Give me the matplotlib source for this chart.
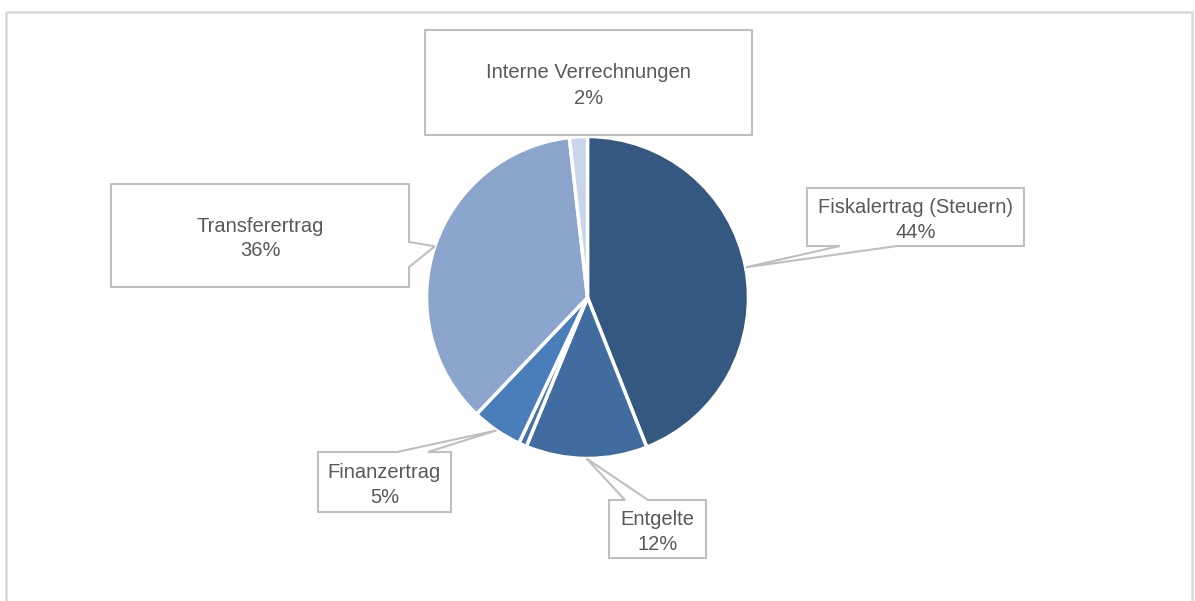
import matplotlib
matplotlib.use("Agg")
import matplotlib.pyplot as plt
import numpy as np
from matplotlib.patches import Polygon, Rectangle
from matplotlib import transforms

# Data (clockwise from 12 o'clock)
categories = ["Fiskalertrag (Steuern)", "Entgelte", "", "Finanzertrag",
              "Transferertrag", "Interne Verrechnungen"]
values = [44.0, 12.2, 0.8, 5.1, 36.1, 1.8]
labels_pct = ["44%", "12%", "", "5%", "36%", "2%"]
colors = ["#34587F", "#416C9F", "#4471AB", "#4A7EBB", "#8BA5CD", "#C9D5E8"]

W, H = 1195, 601
fig = plt.figure(figsize=(W / 100, H / 100), dpi=100)
fig.patch.set_facecolor("white")

# pixel (top-left origin) -> figure transform
pix = transforms.Affine2D().scale(1 / W, -1 / H).translate(0, 1) + fig.transFigure

# outer frame
fig.patches.append(Rectangle((6, 12), 1186, 620, transform=pix, fill=False,
                             edgecolor="#D9D9D9", linewidth=1.8))

cx, cy, R = 587.5, 297.5, 161
span = 200
ax = fig.add_axes([(cx - span) / W, (H - cy - span) / H, 2 * span / W, 2 * span / H])
lim = span / R

wedges, _ = ax.pie(values, colors=colors, startangle=90, counterclock=False,
                   radius=1.0, center=(0, 0), frame=True,
                   wedgeprops=dict(edgecolor="white", linewidth=2.5))
ax.set_xlim(-lim, lim)
ax.set_ylim(-lim, lim)
ax.set_aspect("equal")
ax.axis("off")

fig.canvas.draw()

def tip_for(i):
    w = wedges[i]
    mid = np.deg2rad((w.theta1 + w.theta2) / 2)
    x, y = np.cos(mid), np.sin(mid)
    px, py = ax.transData.transform((x, y))
    return (px, H - py)

# callout layouts: box (x0, y0, x1, y1) in pixels, side, pointer base
callouts = {
    0: dict(box=(807, 188, 1024, 246), side="bottom", base=(897, 840)),
    1: dict(box=(609, 500, 706, 558), side="top", base=(625, 648)),
    3: dict(box=(318, 452, 451, 512), side="top", base=(397, 428)),
    4: dict(box=(111, 184, 409, 287), side="right", base=(242, 267)),
    5: dict(box=(425, 30, 752, 135), side=None, base=None),
}

edge = "#BFBFBF"
tcol = "#595959"
for i, c in callouts.items():
    x0, y0, x1, y1 = c["box"]
    side = c["side"]
    if side is None:
        pts = [(x0, y0), (x1, y0), (x1, y1), (x0, y1)]
    else:
        t = tip_for(i)
        a, b = c["base"]
        if side == "bottom":
            pts = [(x0, y0), (x1, y0), (x1, y1), (a, y1), t, (b, y1), (x0, y1)]
        elif side == "top":
            pts = [(x0, y0), (a, y0), t, (b, y0), (x1, y0), (x1, y1), (x0, y1)]
        elif side == "right":
            pts = [(x0, y0), (x1, y0), (x1, a), t, (x1, b), (x1, y1), (x0, y1)]
    fig.patches.append(Polygon(pts, closed=True, transform=pix, facecolor="white",
                               edgecolor=edge, linewidth=1.5, joinstyle="miter"))
    xm = (x0 + x1) / 2
    ym = (y0 + y1) / 2
    fig.text(xm, ym - 9.5, categories[i], transform=pix, ha="center", va="center",
             fontsize=14.5, color=tcol, family="Liberation Sans")
    fig.text(xm, ym + 15.5, labels_pct[i], transform=pix, ha="center", va="center",
             fontsize=14.5, color=tcol, family="Liberation Sans")

fig.savefig("out.png", dpi=100, facecolor="white")
